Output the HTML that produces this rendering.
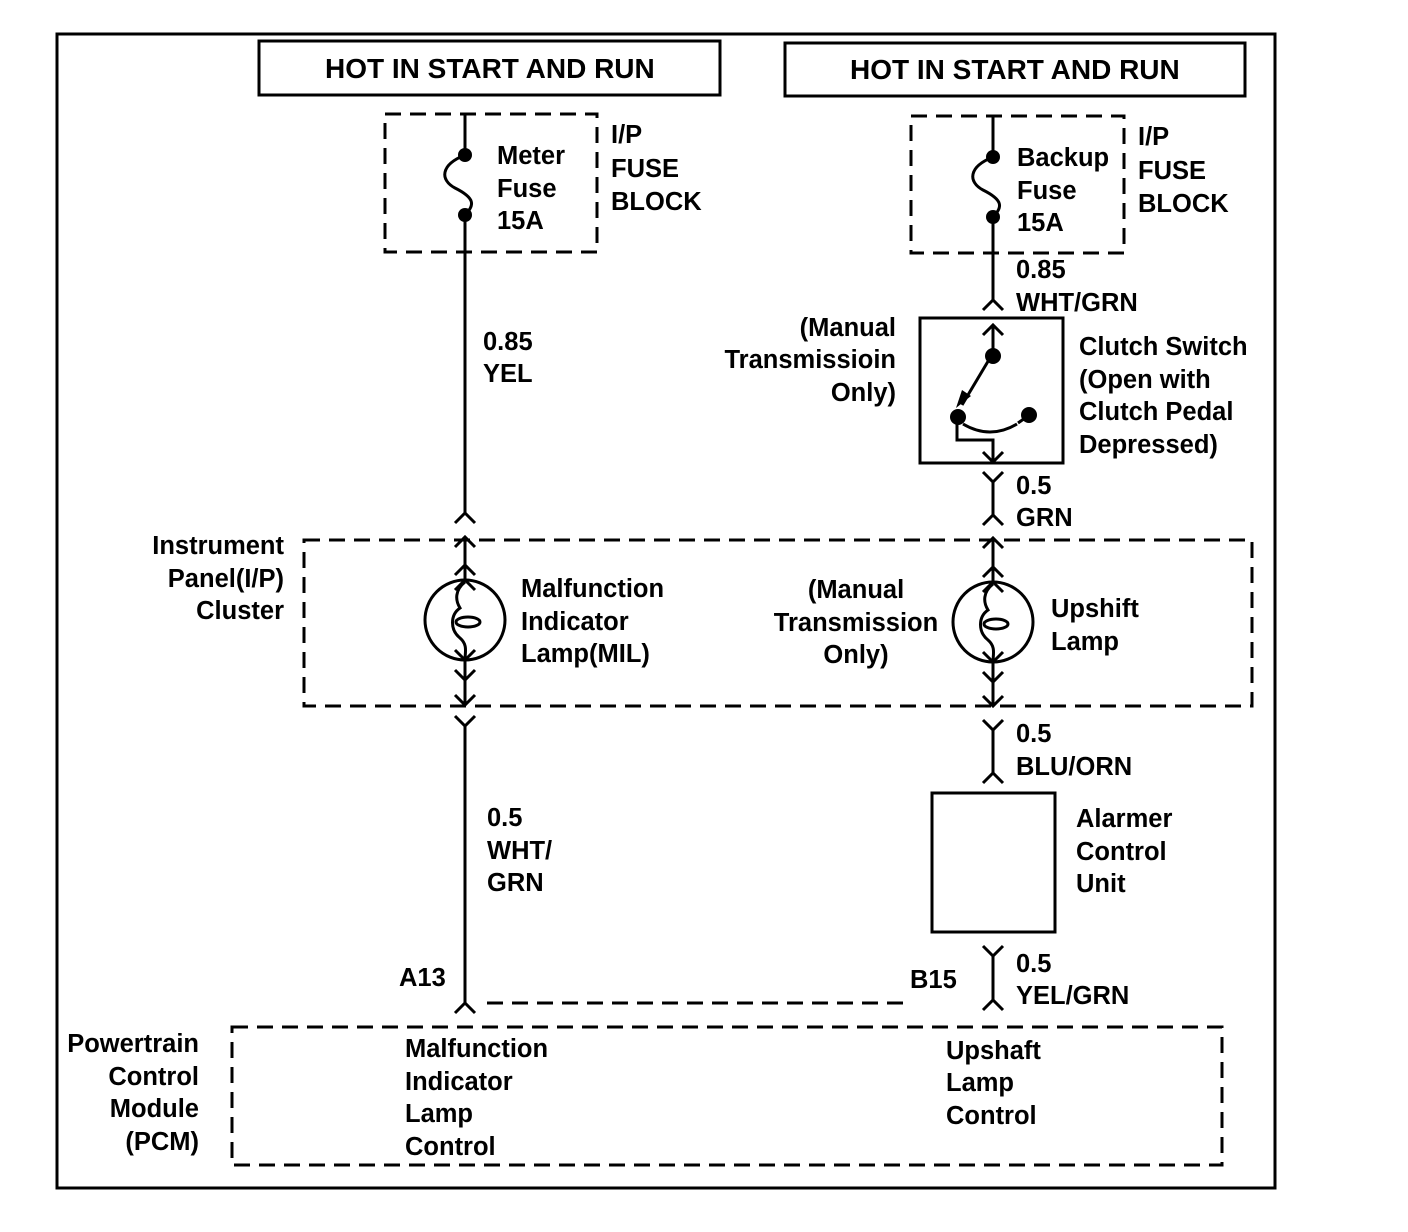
<!DOCTYPE html>
<html><head><meta charset="utf-8"><style>
html,body{margin:0;padding:0;background:#fff;}
svg{display:block;}
text{font-family:"Liberation Sans",Arial,sans-serif;font-size:25.5px;font-weight:bold;fill:#000;}
text.h{font-size:28px;}
</style></head><body>
<svg width="1408" height="1232" viewBox="0 0 1408 1232" xmlns="http://www.w3.org/2000/svg">
<g fill="none" stroke="#000" stroke-width="3">
<rect x="57" y="34" width="1218" height="1154"/>
<rect x="259" y="41" width="461" height="54"/>
<rect x="785" y="43" width="460" height="53"/>
</g>
<text class="h" x="325" y="78">HOT IN START AND RUN</text>
<text class="h" x="850" y="79">HOT IN START AND RUN</text>

<g fill="none" stroke="#000" stroke-width="3" stroke-dasharray="16,9">
<rect x="385" y="114" width="212" height="138"/>
<rect x="911" y="116" width="213" height="137"/>
<rect x="304" y="540" width="948" height="166"/>
<rect x="232" y="1027" width="990" height="138"/>
<line x1="487" y1="1003" x2="905" y2="1003"/>
</g>

<g fill="none" stroke="#000" stroke-width="3">
<line x1="465" y1="114" x2="465" y2="155"/>
<path d="M465,155 C440,165 440,180 455,188 C475,198 475,205 465,215"/>
<line x1="465" y1="215" x2="465" y2="513"/>
<polyline points="455,523 465,513 475,523"/>
<line x1="465" y1="537" x2="465" y2="582"/>
<polyline points="455,547 465,537 475,547"/>
<polyline points="455,575 465,565 475,575"/>
<polyline points="455,590 465,580 475,590"/>
<circle cx="465" cy="620" r="40"/>
<path d="M465,582 C455,590 455,600 460,608 C450,615 450,630 460,638 C468,645 465,652 465,660"/>
<ellipse cx="468" cy="622" rx="12" ry="5"/>
<line x1="465" y1="660" x2="465" y2="705"/>
<polyline points="455,650 465,660 475,650"/>
<polyline points="455,670 465,680 475,670"/>
<polyline points="455,695 465,705 475,695"/>
<polyline points="455,716 465,726 475,716"/>
<line x1="465" y1="726" x2="465" y2="1003"/>
<polyline points="455,1013 465,1003 475,1013"/>

<line x1="993" y1="116" x2="993" y2="157"/>
<path d="M993,157 C968,167 968,182 983,190 C1003,200 1003,207 993,217"/>
<line x1="993" y1="217" x2="993" y2="300"/>
<polyline points="983,310 993,300 1003,310"/>
<rect x="920" y="318" width="143" height="145"/>
<line x1="993" y1="325" x2="993" y2="355"/>
<polyline points="983,335 993,325 1003,335"/>
<line x1="990" y1="358" x2="962" y2="405"/>
<path d="M963,424 Q990,440 1017,424"/>
<polyline points="957,418 957,440 993,440 993,462"/>
<polyline points="983,452 993,462 1003,452"/>
<line x1="1018" y1="423" x2="1028" y2="416"/>
<polyline points="983,472 993,482 1003,472"/>
<line x1="993" y1="482" x2="993" y2="515"/>
<polyline points="983,525 993,515 1003,525"/>
<line x1="993" y1="538" x2="993" y2="584"/>
<polyline points="983,548 993,538 1003,548"/>
<polyline points="983,577 993,567 1003,577"/>
<polyline points="983,592 993,582 1003,592"/>
<circle cx="993" cy="622" r="40"/>
<path d="M993,584 C983,592 983,602 988,610 C978,617 978,632 988,640 C996,647 993,654 993,662"/>
<ellipse cx="996" cy="624" rx="12" ry="5"/>
<line x1="993" y1="662" x2="993" y2="706"/>
<polyline points="983,652 993,662 1003,652"/>
<polyline points="983,672 993,682 1003,672"/>
<polyline points="983,696 993,706 1003,696"/>
<polyline points="983,720 993,730 1003,720"/>
<line x1="993" y1="730" x2="993" y2="773"/>
<polyline points="983,783 993,773 1003,783"/>
<rect x="932" y="793" width="123" height="139"/>
<polyline points="983,946 993,956 1003,946"/>
<line x1="993" y1="956" x2="993" y2="1000"/>
<polyline points="983,1010 993,1000 1003,1010"/>
</g>
<g fill="#000">
<circle cx="465" cy="155" r="7"/><circle cx="465" cy="215" r="7"/>
<circle cx="993" cy="157" r="7"/><circle cx="993" cy="217" r="7"/>
<circle cx="993" cy="356" r="8"/><circle cx="958" cy="417" r="8"/><circle cx="1029" cy="415" r="8"/>
<polygon points="956,408 962,390 971,396"/>
</g>

<text x="497" y="164">Meter</text><text x="497" y="197">Fuse</text><text x="497" y="229">15A</text>
<text x="611" y="143">I/P</text><text x="611" y="177">FUSE</text><text x="611" y="210">BLOCK</text>
<text x="1017" y="166">Backup</text><text x="1017" y="199">Fuse</text><text x="1017" y="231">15A</text>
<text x="1138" y="145">I/P</text><text x="1138" y="179">FUSE</text><text x="1138" y="212">BLOCK</text>
<text x="1016" y="278">0.85</text><text x="1016" y="311">WHT/GRN</text>
<text x="483" y="350">0.85</text><text x="483" y="382">YEL</text>
<text x="896" y="336" text-anchor="end">(Manual</text>
<text x="896" y="368" text-anchor="end">Transmissioin</text>
<text x="896" y="401" text-anchor="end">Only)</text>
<text x="1079" y="355">Clutch Switch</text><text x="1079" y="388">(Open with</text>
<text x="1079" y="420">Clutch Pedal</text><text x="1079" y="453">Depressed)</text>
<text x="1016" y="494">0.5</text><text x="1016" y="526">GRN</text>
<text x="284" y="554" text-anchor="end">Instrument</text>
<text x="284" y="587" text-anchor="end">Panel(I/P)</text>
<text x="284" y="619" text-anchor="end">Cluster</text>
<text x="521" y="597">Malfunction</text><text x="521" y="630">Indicator</text><text x="521" y="662">Lamp(MIL)</text>
<text x="856" y="598" text-anchor="middle">(Manual</text>
<text x="856" y="631" text-anchor="middle">Transmission</text>
<text x="856" y="663" text-anchor="middle">Only)</text>
<text x="1051" y="617">Upshift</text><text x="1051" y="650">Lamp</text>
<text x="1016" y="742">0.5</text><text x="1016" y="775">BLU/ORN</text>
<text x="487" y="826">0.5</text><text x="487" y="859">WHT/</text><text x="487" y="891">GRN</text>
<text x="1076" y="827">Alarmer</text><text x="1076" y="860">Control</text><text x="1076" y="892">Unit</text>
<text x="1016" y="972">0.5</text><text x="1016" y="1004">YEL/GRN</text>
<text x="399" y="986">A13</text><text x="910" y="988">B15</text>
<text x="199" y="1052" text-anchor="end">Powertrain</text>
<text x="199" y="1085" text-anchor="end">Control</text>
<text x="199" y="1117" text-anchor="end">Module</text>
<text x="199" y="1150" text-anchor="end">(PCM)</text>
<text x="405" y="1057">Malfunction</text><text x="405" y="1090">Indicator</text>
<text x="405" y="1122">Lamp</text><text x="405" y="1155">Control</text>
<text x="946" y="1059">Upshaft</text><text x="946" y="1091">Lamp</text><text x="946" y="1124">Control</text>
</svg>
</body></html>
